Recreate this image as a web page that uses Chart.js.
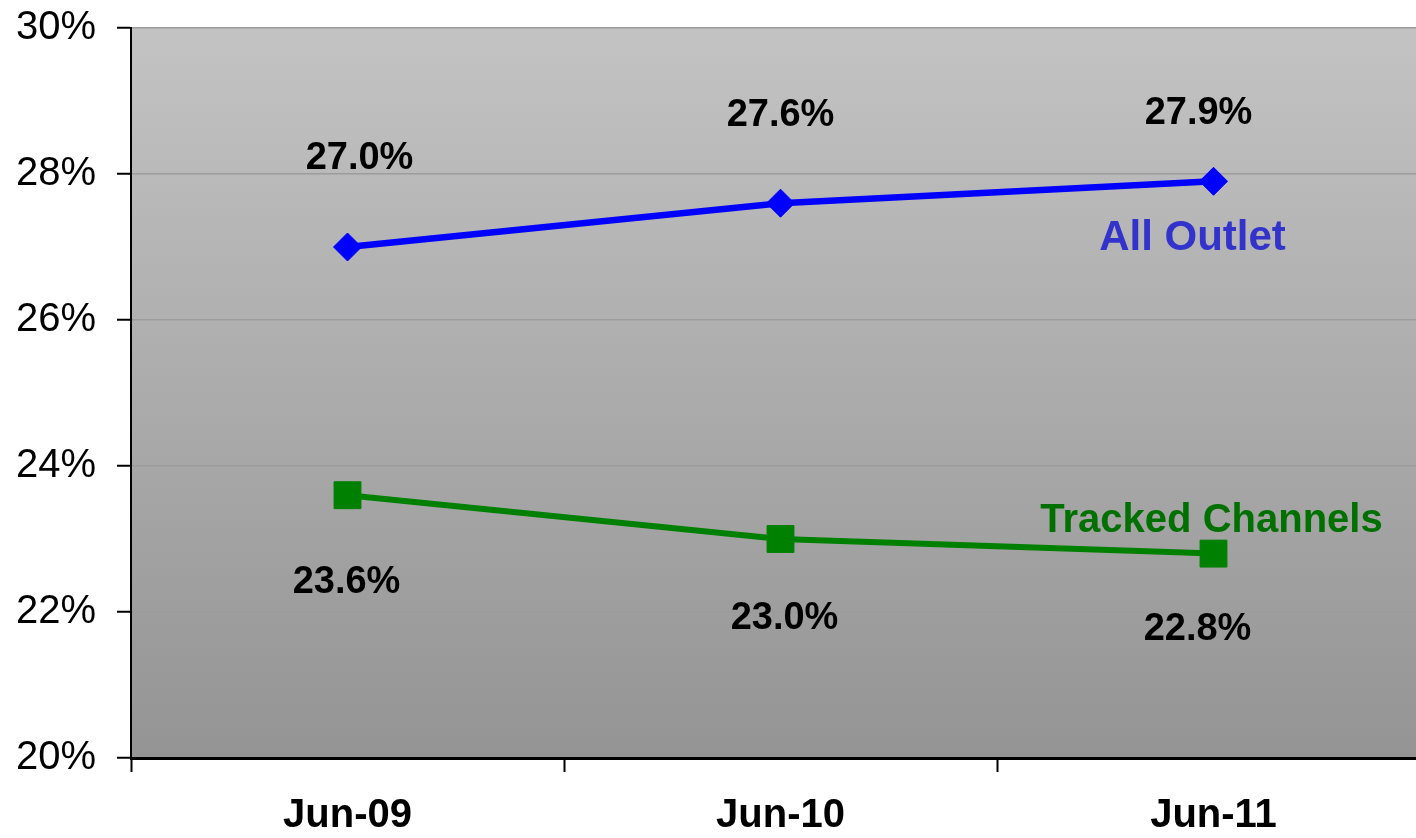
<!DOCTYPE html>
<html>
<head>
<meta charset="utf-8">
<script src="https://cdn.jsdelivr.net/npm/chart.js@4.4.1/dist/chart.umd.min.js"></script>
<style>
  html, body { margin: 0; padding: 0; background: #fff; overflow: hidden; }
  #wrap { width: 1450px; height: 838px; }
  #share { display: block; }
</style>
</head>
<body>
<div id="wrap"><canvas id="share" width="1450" height="838"></canvas></div>
<script>
// Share trend, June of each year
const periods = ["Jun-09", "Jun-10", "Jun-11"];
const allOutlet = [27.0, 27.6, 27.9];
const trackedChannels = [23.6, 23.0, 22.8];
const yTicks = [20, 22, 24, 26, 28, 30];

const FONT = "'Liberation Sans', Arial, Helvetica, sans-serif";

// per-point nudges for the value labels (px from the marker)
const labelNudge = {
  0: [[12, -88], [0, -88], [-15, -68]],
  1: [[-1, 87], [4, 80], [-16, 76]]
};
// series names, placed relative to the last marker
const seriesTags = {
  0: { text: "All Outlet", color: "#3333cc", size: 42, dx: -21, dy: 57 },
  1: { text: "Tracked Channels", color: "#007000", size: 40, dx: -2, dy: -33 }
};

const plotBackground = {
  id: "plotBackground",
  beforeDraw(chart) {
    const { ctx, chartArea: a } = chart;
    const g = ctx.createLinearGradient(0, a.top, 0, a.bottom);
    g.addColorStop(0, "#c3c3c3");
    g.addColorStop(1, "#949494");
    ctx.save();
    ctx.fillStyle = g;
    ctx.fillRect(a.left, a.top, a.right - a.left, a.bottom - a.top);
    ctx.restore();
  }
};

const valueLabels = {
  id: "valueLabels",
  afterDatasetsDraw(chart) {
    const ctx = chart.ctx;
    ctx.save();
    ctx.textAlign = "center";
    ctx.textBaseline = "middle";
    chart.data.datasets.forEach((ds, i) => {
      const pts = chart.getDatasetMeta(i).data;
      ctx.font = "bold 38px " + FONT;
      ctx.fillStyle = "#000";
      pts.forEach((p, j) => {
        const [dx, dy] = labelNudge[i][j];
        ctx.fillText(ds.data[j].toFixed(1) + "%", p.x + dx, p.y + dy);
      });
      const tag = seriesTags[i];
      const last = pts[pts.length - 1];
      ctx.font = "bold " + tag.size + "px " + FONT;
      ctx.fillStyle = tag.color;
      ctx.fillText(tag.text, last.x + tag.dx, last.y + tag.dy);
    });
    ctx.restore();
  }
};

new Chart(document.getElementById("share"), {
  type: "line",
  data: {
    labels: periods,
    datasets: [
      {
        label: "All Outlet",
        data: allOutlet,
        borderColor: "#0000ff",
        backgroundColor: "#0000ff",
        borderWidth: 6.5,
        pointStyle: "rectRot",
        pointRadius: 14,
        pointBorderWidth: 1,
        tension: 0
      },
      {
        label: "Tracked Channels",
        data: trackedChannels,
        borderColor: "#008000",
        backgroundColor: "#008000",
        borderWidth: 6,
        pointStyle: "rect",
        pointRadius: 19,
        pointBorderWidth: 1,
        tension: 0
      }
    ]
  },
  options: {
    responsive: false,
    animation: false,
    devicePixelRatio: 1,
    layout: { padding: { top: 28, right: 0, left: 0, bottom: 0 } },
    scales: {
      x: {
        offset: true,
        grid: { offset: true, drawOnChartArea: false, tickLength: 14, tickColor: "#000", tickWidth: 2 },
        border: { color: "#000", width: 3 },
        ticks: { color: "#000", padding: 20, font: { family: FONT, size: 40, weight: "bold" } },
        afterFit(scale) {
          scale.height = 80;
          scale.paddingLeft = 0;
          scale.paddingRight = 0;
        }
      },
      y: {
        min: 20,
        max: 30,
        afterBuildTicks(scale) { scale.ticks = yTicks.map(v => ({ value: v })); },
        grid: { color: "#9c9c9c", lineWidth: 1.5, tickLength: 14, tickColor: "#000", tickWidth: 2 },
        border: { color: "#000", width: 2 },
        ticks: {
          color: "#000",
          padding: 21,
          font: { family: FONT, size: 40 },
          callback: v => v + "%"
        },
        afterFit(scale) {
          scale.width = 131;
          scale.paddingTop = 0;
          scale.paddingBottom = 0;
        }
      }
    },
    plugins: {
      legend: { display: false },
      tooltip: { enabled: false }
    }
  },
  plugins: [plotBackground, valueLabels]
});
</script>
</body>
</html>
